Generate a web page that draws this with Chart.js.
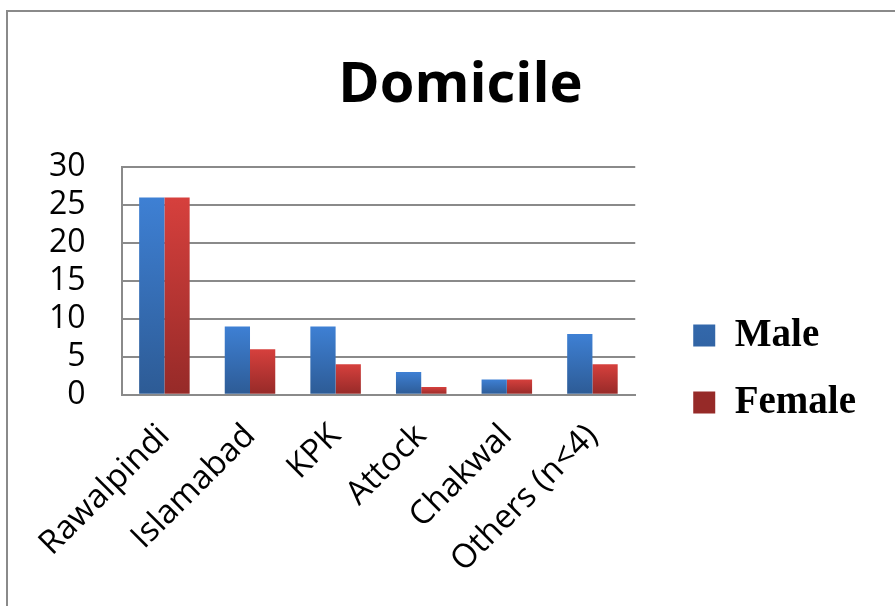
<html>
<head>
<meta charset="utf-8">
<title>Domicile</title>
<script src="https://cdn.jsdelivr.net/npm/chart.js@4.4.1/dist/chart.umd.min.js"></script>
<style>
  body { margin: 0; background: #fff; }
  #frame { position: absolute; left: 6px; top: 10px; width: 950px; height: 650px;
           border-left: 2px solid #8a8a8a; border-top: 2px solid #8a8a8a; }
  #wrap { position: absolute; left: 0; top: 0; width: 895px; height: 606px; }
</style>
</head>
<body>
<div id="frame"></div>
<div id="wrap"><canvas id="chart" width="895" height="606"></canvas></div>

<script>
  // data
  var categories = ["Rawalpindi", "Islamabad", "KPK", "Attock", "Chakwal", "Others (n<4)"]
  var male = [26, 9, 9, 3, 2, 8]
  var female = [26, 6, 4, 1, 2, 4]
  var yTicks = [0, 5, 10, 15, 20, 25, 30]

  function grad(top, bottom){
    // vertical gradient on each bar, from its top to the baseline
    return function(c){
      var y = c.chart.scales && c.chart.scales.y
      if(c.dataIndex === undefined || !y || !c.chart.chartArea) return top
      var y0 = y.getPixelForValue(c.raw), y1 = y.getPixelForValue(0)
      if(!isFinite(y0) || !isFinite(y1) || y0 === y1) return top
      var g = c.chart.ctx.createLinearGradient(0, y0, 0, y1)
      g.addColorStop(0, top)
      g.addColorStop(1, bottom)
      return g
    }
  }

  // push the legend a bit away from the plot without moving its items,
  // and nudge the title to the right like in the picture
  var shiftBoxes = {
    id: 'shiftBoxes',
    beforeLayout: function(chart){
      var L = chart.legend
      if(L && !L._gap){
        L._gap = 30
        var fit = L.fit, draw = L._draw
        L.fit = function(){ fit.call(this); this.width += this._gap }
        L._draw = function(){ this.left += this._gap; draw.call(this); this.left -= this._gap }
      }
      var T = chart.titleBlock
      if(T && !T._shift){
        T._shift = 21
        var tdraw = T.draw
        T.draw = function(){
          this.left += this._shift; this.right += this._shift
          tdraw.call(this)
          this.left -= this._shift; this.right -= this._shift
        }
      }
    }
  }

  var ctx = document.getElementById("chart").getContext("2d")
  let chart = new Chart(ctx, {
    type: 'bar',
    data: {
      labels: categories,
      datasets: [{
        label: 'Male',
        data: male,
        backgroundColor: grad('#3e80d4', '#2d5b95'),
        categoryPercentage: 0.59,
        barPercentage: 1.0
      }, {
        label: 'Female',
        data: female,
        backgroundColor: grad('#d6403d', '#962a28'),
        categoryPercentage: 0.59,
        barPercentage: 1.0
      }]
    },
    plugins: [shiftBoxes],
    options: {
      responsive: false,
      animation: false,
      layout: { padding: { left: 13, right: 29, top: 52, bottom: 4 } },
      plugins: {
        title: {
          display: true,
          text: 'Domicile',
          color: '#000',
          font: { family: 'Open Sans', size: 56, weight: 'bold' },
          padding: { top: 0, bottom: 48 }
        },
        legend: {
          position: 'right',
          align: 'center',
          title: { display: true, text: ' ', font: { size: 10 }, padding: { top: 0, bottom: 72 } },
          labels: {
            color: '#000',
            boxWidth: 22,
            boxHeight: 22,
            padding: 28,
            font: { family: 'Liberation Serif', size: 39, weight: 'bold' }
          }
        },
        tooltip: { enabled: false }
      },
      scales: {
        x: {
          grid: { display: false, drawTicks: false },
          border: { color: '#8a8a8a', width: 2 },
          ticks: {
            color: '#000',
            maxRotation: 45,
            minRotation: 45,
            padding: 22,
            font: { family: 'Open Sans', size: 33 }
          }
        },
        y: {
          min: 0,
          max: 30,
          afterBuildTicks: function(ax){ ax.ticks = yTicks.map(function(v){ return { value: v } }) },
          grid: { color: '#8a8a8a', lineWidth: 2, drawTicks: false },
          border: { color: '#8a8a8a', width: 2 },
          ticks: {
            color: '#000',
            padding: 36,
            autoSkip: false,
            font: { family: 'Open Sans', size: 32 }
          }
        }
      }
    }
  });
</script>
</body>
</html>
